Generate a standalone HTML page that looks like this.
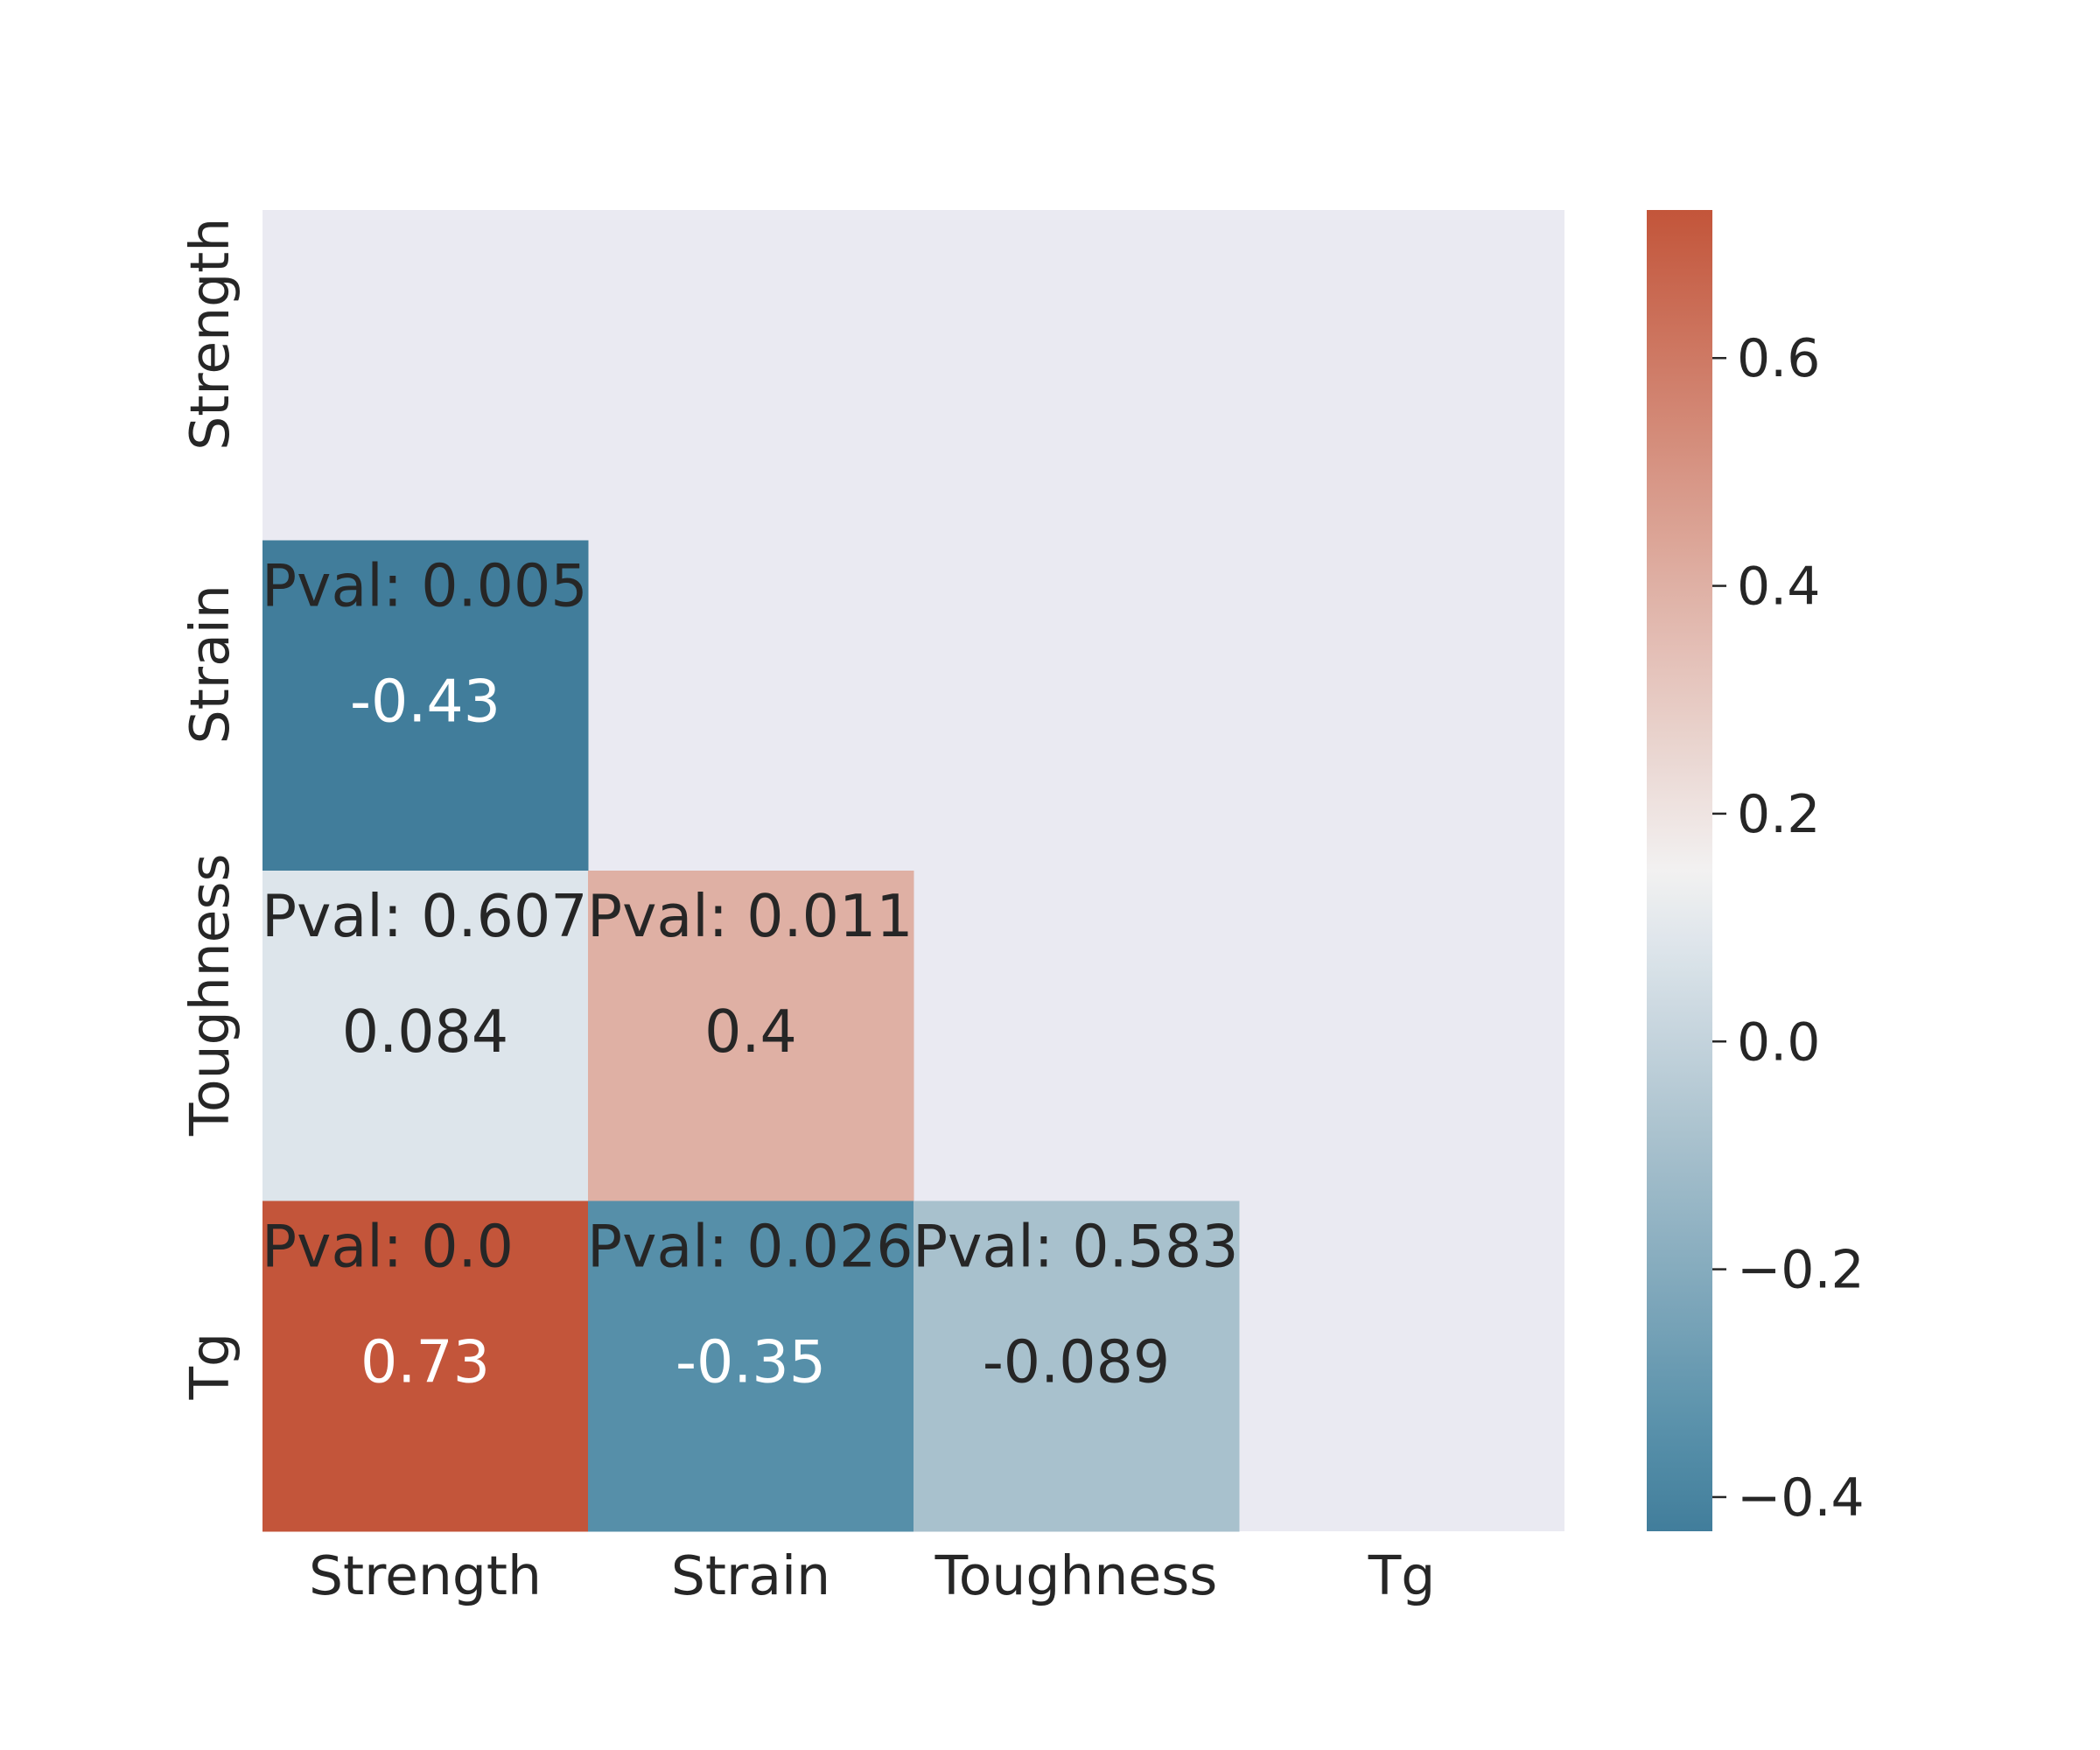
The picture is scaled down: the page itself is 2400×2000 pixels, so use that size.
<!DOCTYPE html>
<html><head><meta charset="utf-8"><style>
html,body{margin:0;padding:0;background:#fff;}
svg{display:block;}
text{font-family:"DejaVu Sans","Liberation Sans",sans-serif;fill:#262626;}
</style></head><body>
<svg id="chart" width="2400" height="2000" viewBox="0 0 2400 2000" xmlns="http://www.w3.org/2000/svg">
<defs>
<linearGradient id="cbgrad" x1="0" y1="1" x2="0" y2="0"></linearGradient>
</defs>
<rect x="300" y="240" width="1488" height="1510" fill="#eaeaf2"/>
<g id="cells"></g>
<g id="labels"></g>
<g id="cbar"></g>
</svg>
<script>
const categories = ["Strength","Strain","Toughness","Tg"];
// lower-triangle cells: [row, col]
const cellRows = [1,2,2,3,3,3];
const cellCols = [0,0,1,0,1,2];
const corrValues = [-0.43,0.084,0.4,0.73,-0.35,-0.089];
const corrLabels = ["-0.43","0.084","0.4","0.73","-0.35","-0.089"];
const pvalLabels = ["0.005","0.607","0.011","0.0","0.026","0.583"];
const cbarTicks = [-0.4,-0.2,0.0,0.2,0.4,0.6];
const cbarTickLabels = ["\u22120.4","\u22120.2","0.0","0.2","0.4","0.6"];
const vmin = -0.43, vmax = 0.73;

const NS="http://www.w3.org/2000/svg";
const X0=300, Y0=240, CW=372, CH=377.5;
const xCell = c => X0 + c*CW;
const yCell = r => Y0 + r*CH;
const CBX=1882, CBW=75, CBTOP=240, CBBOT=1750;
const yCbar = v => CBBOT - (v - vmin)/(vmax - vmin)*(CBBOT-CBTOP);

const stops=[[0,[65,125,155]],[0.069,[86,143,169]],[0.296,[169,193,205]],[0.443,[221,229,235]],[0.5,[242,241,241]],[0.716,[223,176,164]],[1,[195,85,58]]];
function cmap(v){
  let t=(v-vmin)/(vmax-vmin); t=Math.max(0,Math.min(1,t));
  for(let i=1;i<stops.length;i++){
    if(t<=stops[i][0]){
      const a=stops[i-1],b=stops[i],f=(t-a[0])/(b[0]-a[0]);
      const c=a[1].map((x,k)=>Math.round(x+(b[1][k]-x)*f));
      return "rgb("+c.join(",")+")";
    }
  }
  return "rgb(195,85,58)";
}
function mk(tag,attrs,parent){
  const e=document.createElementNS(NS,tag);
  for(const k in attrs) e.setAttribute(k,attrs[k]);
  parent.appendChild(e); return e;
}
const cellsG=document.getElementById('cells');
for(let i=0;i<corrValues.length;i++){
  const r=cellRows[i], c=cellCols[i], v=corrValues[i];
  const rect=mk('rect',{x:xCell(c),y:yCell(r),width:CW+0.5,height:CH+0.5,fill:cmap(v)},cellsG);
  
  
  const p=mk('text',{x:xCell(c)-1,y:yCell(r)+75,'font-size':66.5},cellsG);
  p.textContent="Pval: "+pvalLabels[i];
  
  
  const t=(v-vmin)/(vmax-vmin);
  const light = (t<0.2||t>0.8);
  const vt=mk('text',{x:xCell(c)+CW/2,y:yCell(r)+CH/2+18,'font-size':66.5,'text-anchor':'middle'},cellsG);
  if(light) vt.style.fill="#ffffff";
  vt.textContent=corrLabels[i];
  
  
}
const labG=document.getElementById('labels');
categories.forEach((name,i)=>{
  const xt=mk('text',{x:xCell(i)+CW/2,y:1822,'font-size':61.5,'text-anchor':'middle'},labG);
  xt.textContent=name;
  
  
  const cy=yCell(i)+CH/2 - (name==="Tg"?0:47);
  const yt=mk('text',{x:0,y:0,'font-size':61.5,'text-anchor':'middle',transform:'translate(261,'+cy+') rotate(-90)'},labG);
  yt.textContent=name;
  
  
});
const grad=document.getElementById('cbgrad');
for(let k=0;k<=40;k++){
  const v=vmin+(vmax-vmin)*k/40;
  mk('stop',{offset:(k/40),'stop-color':cmap(v)},grad);
}
const cbG=document.getElementById('cbar');
const cbr=mk('rect',{x:CBX,y:CBTOP,width:CBW,height:CBBOT-CBTOP,fill:'url(#cbgrad)'},cbG);


cbarTicks.forEach((v,i)=>{
  const y=yCbar(v);
  const tk=mk('line',{x1:CBX+CBW,x2:CBX+CBW+16,y1:y,y2:y,stroke:'#262626','stroke-width':2.5},cbG);
  
  
  const tl=mk('text',{x:CBX+CBW+28,y:y+21,'font-size':60},cbG);
  tl.textContent=cbarTickLabels[i];
  
  
});
</script>
</body></html>
